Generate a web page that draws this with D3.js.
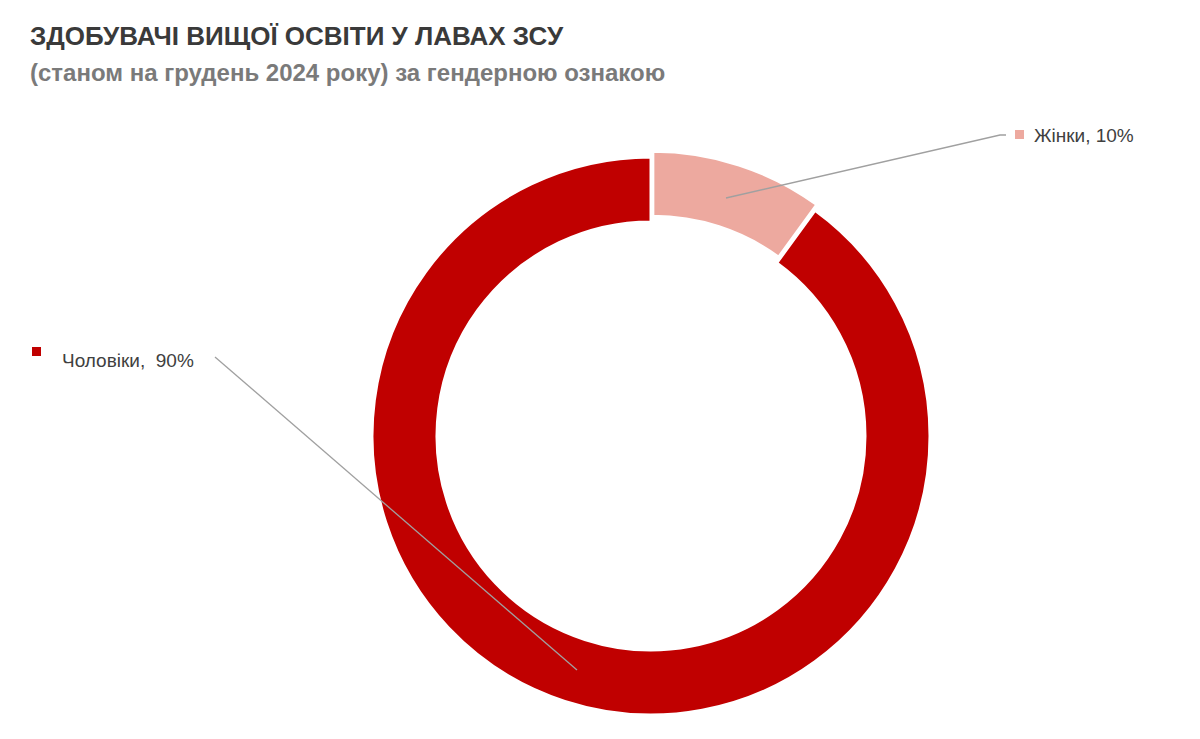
<!DOCTYPE html>
<html><head><meta charset="utf-8">
<script src="https://cdn.jsdelivr.net/npm/d3@7"></script>
<style>body{margin:0;background:#fff}svg{display:block;font-family:Arial,"Liberation Sans",sans-serif}</style>
</head><body>
<svg width="1200" height="739"></svg>
<script>
// ---- Dados
const categorias = ["Жінки", "Чоловіки"];
const valores = [10, 90];
const cores = ["#EDA99F", "#C00000"];
const rotulos = ["Жінки, 10%", "Чоловіки,  90%"];

const svg = d3.select('svg');

// ---- Títulos
svg.append('text').attr('x', 30).attr('y', 45)
  .attr('font-size', 26).attr('font-weight', 'bold').attr('fill', '#3a3a3a')
  .text('ЗДОБУВАЧІ ВИЩОЇ ОСВІТИ У ЛАВАХ ЗСУ');
svg.append('text').attr('x', 30).attr('y', 81)
  .attr('font-size', 24).attr('font-weight', 'bold').attr('fill', '#7a7a7a')
  .text('(станом на грудень 2024 року) за гендерною ознакою');

// ---- Donut
const cx = 651, cy = 436, rOut = 279, rIn = 214;
const pie = d3.pie().sort(null).value(d => d)(valores);
const arc = d3.arc().innerRadius(rIn).outerRadius(rOut);
const g = svg.append('g').attr('transform', `translate(${cx},${cy})`);

g.selectAll('path').data(pie).join('path')
  .attr('d', arc)
  .attr('fill', (d, i) => cores[i])
  .attr('stroke', '#fff').attr('stroke-width', 3)
  .attr('transform', (d, i) => {
    if (i !== 0) return null;
    const a = (d.startAngle + d.endAngle) / 2, off = 6;
    return `translate(${Math.sin(a) * off},${-Math.cos(a) * off})`;
  });

// ---- Rótulos e linhas
const pts = [
  { from: [726, 198], to: [1000, 135], end: [1006, 135], sq: [1015, 130], tx: [1034, 142] },
  { from: [577, 670], to: [215, 357], end: [215, 357], sq: [32, 347], tx: [62, 367] }
];
pts.forEach((p, i) => {
  svg.append('polyline')
    .attr('points', [p.from, p.to, p.end].map(q => q.join(',')).join(' '))
    .attr('fill', 'none').attr('stroke', '#a0a0a0').attr('stroke-width', 1.3);
  svg.append('rect').attr('x', p.sq[0]).attr('y', p.sq[1])
    .attr('width', 9).attr('height', 9).attr('fill', cores[i]);
  svg.append('text').attr('x', p.tx[0]).attr('y', p.tx[1])
    .attr('font-size', 19).attr('fill', '#404040')
    .style('white-space', 'pre').text(rotulos[i]);
});
</script>
</body></html>
